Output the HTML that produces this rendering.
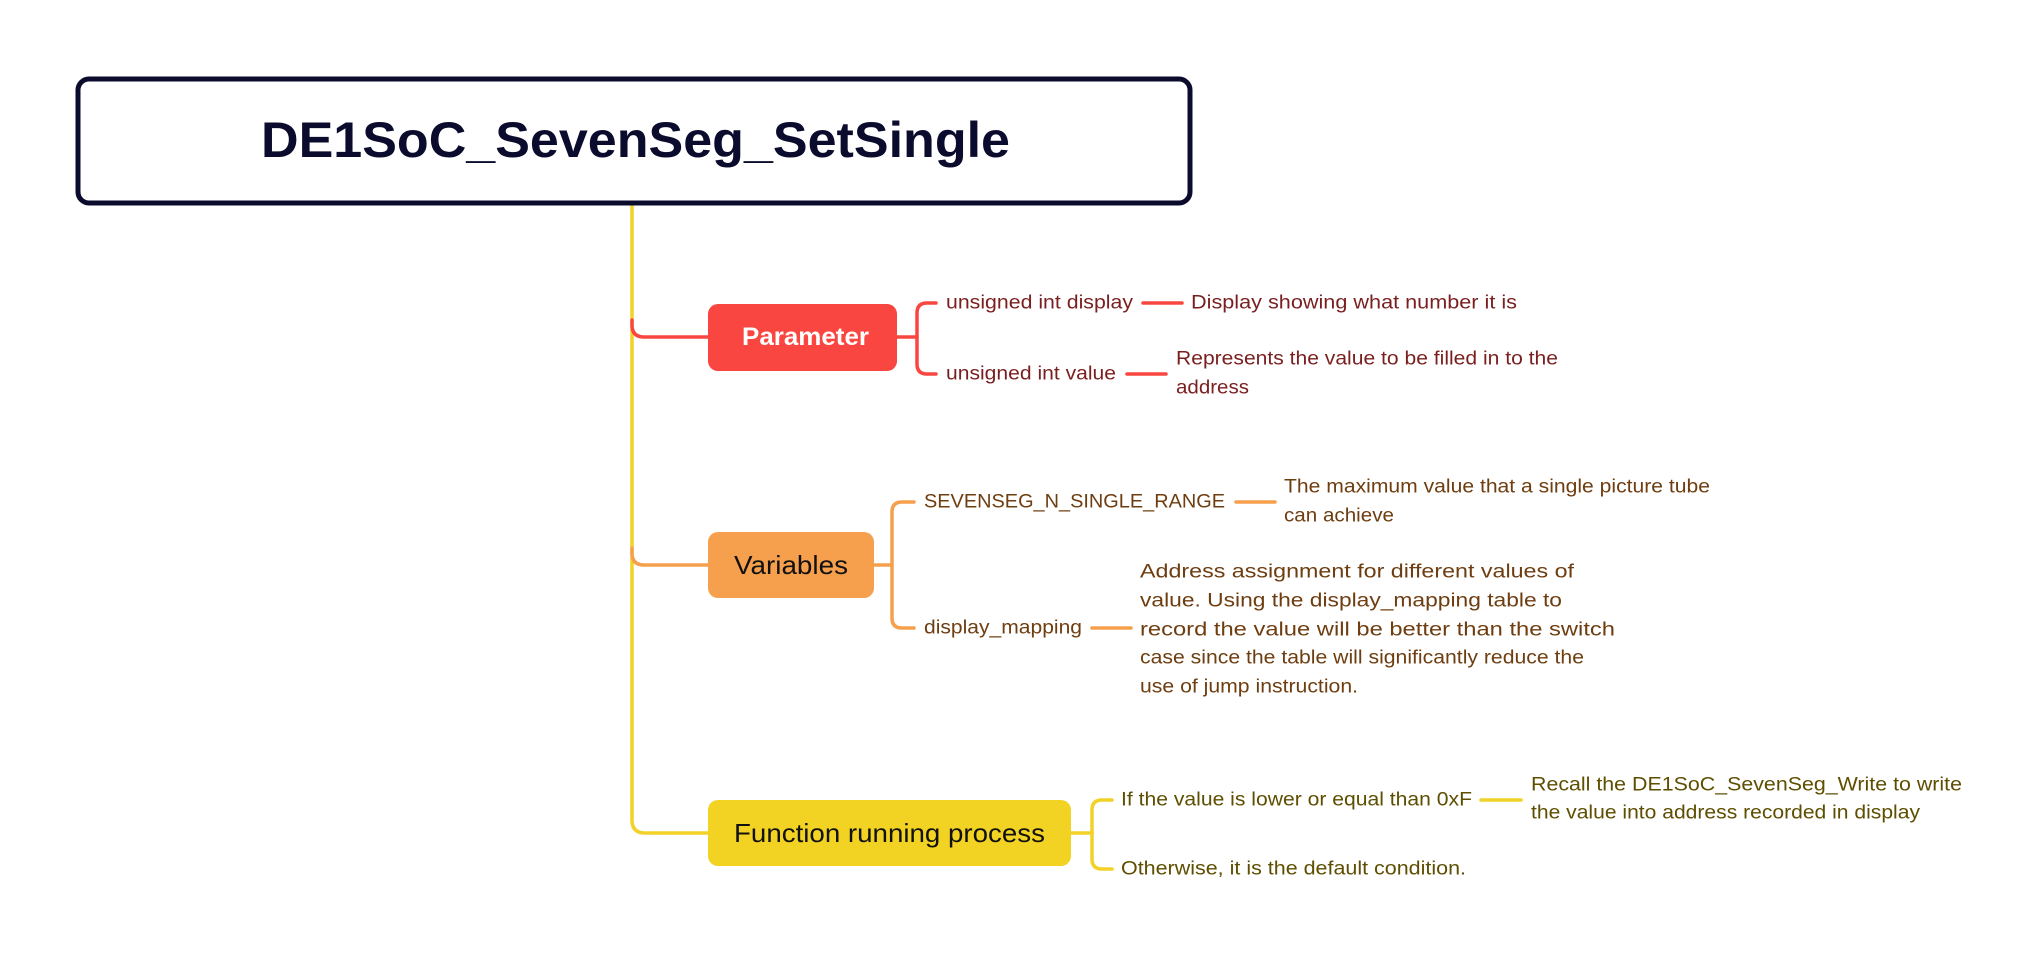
<!DOCTYPE html>
<html><head><meta charset="utf-8"><style>
html,body{margin:0;padding:0;background:#fff;width:2038px;height:963px;overflow:hidden}
svg{display:block}
text{font-family:"Liberation Sans",sans-serif;dominant-baseline:central}
.r{fill:#7a1f1f;font-size:19px}
.o{fill:#6e3d10;font-size:19px}
.y{fill:#5e4e00;font-size:19px}
</style></head><body>
<svg width="2038" height="963" viewBox="0 0 2038 963" xmlns="http://www.w3.org/2000/svg">
<g transform="translate(-4,0)">
<g fill="none" stroke-width="3.5" stroke-linecap="round">
<path d="M636,204 V820 Q636,833 649,833 H712" stroke="#f2d229"/>
<path d="M636,320 V325 Q636,337 648,337 H712" stroke="#f94640"/>
<path d="M636,548 V553 Q636,565 648,565 H712" stroke="#f6a04d"/>
<path d="M901,337 H921" stroke="#f94640"/>
<path d="M940,303 H931 Q921,303 921,313 V364 Q921,374 931,374 H940" stroke="#f94640"/>
<path d="M1147,303 H1186" stroke="#f94640"/>
<path d="M1131,374 H1170" stroke="#f94640"/>
<path d="M878,565 H896" stroke="#f6a04d"/>
<path d="M918,502 H906 Q896,502 896,512 V618 Q896,628 906,628 H918" stroke="#f6a04d"/>
<path d="M1240,502 H1279" stroke="#f6a04d"/>
<path d="M1096,628 H1135" stroke="#f6a04d"/>
<path d="M1075,833 H1096" stroke="#f2d229"/>
<path d="M1116,800 H1106 Q1096,800 1096,810 V859 Q1096,869 1106,869 H1116" stroke="#f2d229"/>
<path d="M1485,800 H1525" stroke="#f2d229"/>
</g>
<rect x="712" y="304" width="189" height="67" rx="10" fill="#f94640"/>
<text x="746" y="337" font-size="25" font-weight="bold" fill="#fff" textLength="127" lengthAdjust="spacingAndGlyphs">Parameter</text>
<rect x="712" y="532" width="166" height="66" rx="10" fill="#f6a04d"/>
<text x="738" y="565" font-size="26" fill="#111" textLength="114" lengthAdjust="spacingAndGlyphs">Variables</text>
<rect x="712" y="800" width="363" height="66" rx="10" fill="#f2d323"/>
<text x="738" y="833" font-size="26" fill="#111" textLength="311" lengthAdjust="spacingAndGlyphs">Function running process</text>
<text class="r" x="950" y="303" textLength="187" lengthAdjust="spacingAndGlyphs">unsigned int display</text>
<text class="r" x="1195" y="303" textLength="326" lengthAdjust="spacingAndGlyphs">Display showing what number it is</text>
<text class="r" x="950" y="374" textLength="170" lengthAdjust="spacingAndGlyphs">unsigned int value</text>
<text class="r" x="1180" y="359" textLength="382" lengthAdjust="spacingAndGlyphs">Represents the value to be filled in to the</text>
<text class="r" x="1180" y="388" textLength="73" lengthAdjust="spacingAndGlyphs">address</text>
<text class="o" x="928" y="502" textLength="301" lengthAdjust="spacingAndGlyphs">SEVENSEG_N_SINGLE_RANGE</text>
<text class="o" x="1288" y="487" textLength="426" lengthAdjust="spacingAndGlyphs">The maximum value that a single picture tube</text>
<text class="o" x="1288" y="516" textLength="110" lengthAdjust="spacingAndGlyphs">can achieve</text>
<text class="o" x="928" y="628" textLength="158" lengthAdjust="spacingAndGlyphs">display_mapping</text>
<text class="o" x="1144" y="572" textLength="434" lengthAdjust="spacingAndGlyphs">Address assignment for different values of</text>
<text class="o" x="1144" y="601" textLength="422" lengthAdjust="spacingAndGlyphs">value. Using the display_mapping table to</text>
<text class="o" x="1144" y="630" textLength="475" lengthAdjust="spacingAndGlyphs">record the value will be better than the switch</text>
<text class="o" x="1144" y="658" textLength="444" lengthAdjust="spacingAndGlyphs">case since the table will significantly reduce the</text>
<text class="o" x="1144" y="687" textLength="218" lengthAdjust="spacingAndGlyphs">use of jump instruction.</text>
<text class="y" x="1125" y="800" textLength="351" lengthAdjust="spacingAndGlyphs">If the value is lower or equal than 0xF</text>
<text class="y" x="1535" y="785" textLength="431" lengthAdjust="spacingAndGlyphs">Recall the DE1SoC_SevenSeg_Write to write</text>
<text class="y" x="1535" y="813" textLength="389" lengthAdjust="spacingAndGlyphs">the value into address recorded in display</text>
<text class="y" x="1125" y="869" textLength="345" lengthAdjust="spacingAndGlyphs">Otherwise, it is the default condition.</text>
</g>
<rect x="78" y="79" width="1112" height="124" rx="11" fill="#fff" stroke="#0b0b2d" stroke-width="5"/>
<text x="261" y="140" font-size="50" font-weight="bold" fill="#0b0b2d" textLength="749" lengthAdjust="spacingAndGlyphs">DE1SoC_SevenSeg_SetSingle</text>
</svg>
</body></html>
